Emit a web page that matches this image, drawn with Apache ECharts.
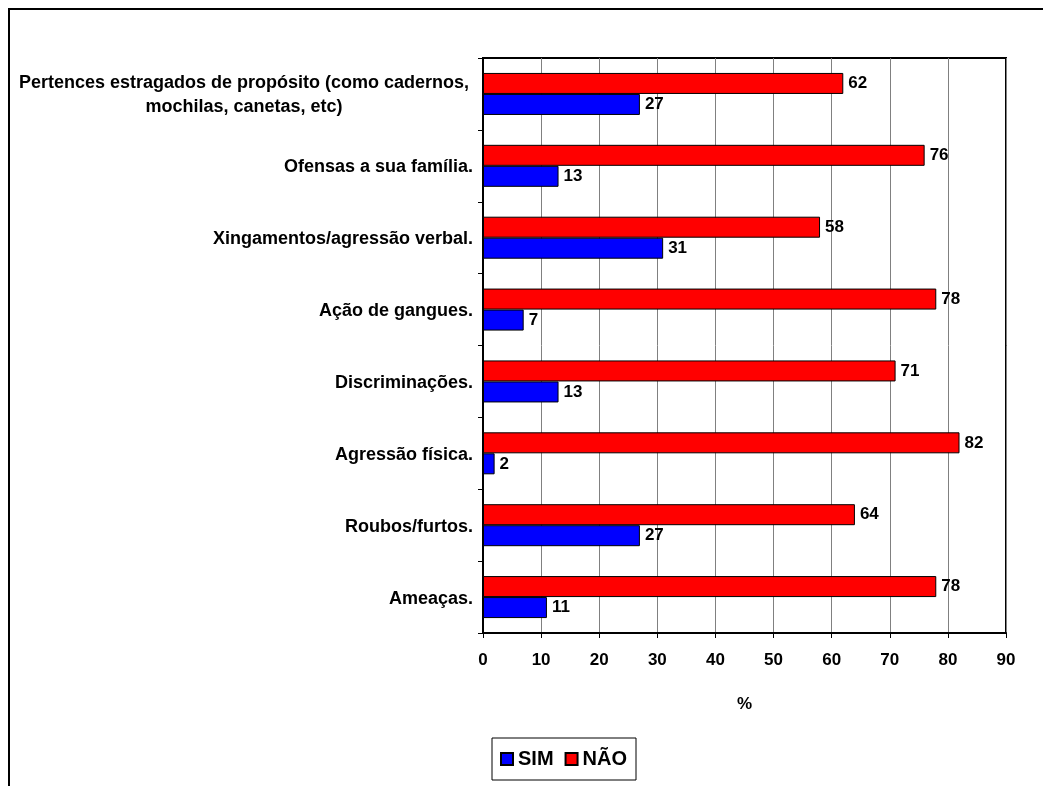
<!DOCTYPE html>
<html>
<head>
<meta charset="utf-8">
<script src="https://cdn.jsdelivr.net/npm/echarts@6/dist/echarts.min.js"></script>
<style>
html,body{margin:0;padding:0;background:#fff;}
#c{width:1043px;height:786px;}
</style>
</head>
<body>
<div id="c"></div>
<script>
// Categories listed bottom to top
const categories = [
  'Ameaças.',
  'Roubos/furtos.',
  'Agressão física.',
  'Discriminações.',
  'Ação de gangues.',
  'Xingamentos/agressão verbal.',
  'Ofensas a sua família.',
  'Pertences estragados de propósito (como cadernos,\nmochilas, canetas, etc)'
];
const simValues = [11, 27, 2, 13, 7, 31, 13, 27];
const naoValues = [78, 64, 82, 71, 78, 58, 76, 62];
const xTicks = [0, 10, 20, 30, 40, 50, 60, 70, 80, 90];

const FONT = "'Liberation Sans', Arial, sans-serif";
const chart = echarts.init(document.getElementById('c'), null, {renderer: 'canvas'});

chart.setOption({
  animation: false,
  backgroundColor: '#fff',
  textStyle: {fontFamily: FONT},
  graphic: [{
    type: 'rect',
    shape: {x: 9, y: 9, width: 1200, height: 1000},
    style: {fill: 'none', stroke: '#000', lineWidth: 2},
    silent: true,
    z: -1
  }],
  grid: {
    left: 483, right: 37, top: 58, bottom: 153,
    show: true, borderColor: '#000', borderWidth: 2, backgroundColor: 'transparent'
  },
  legend: {
    data: ['SIM', 'NÃO'],
    left: 492, top: 738,
    itemWidth: 12, itemHeight: 12, itemGap: 11,
    icon: 'rect',
    borderColor: '#000', borderWidth: 1,
    padding: [11, 9, 11, 8],
    textStyle: {fontSize: 20, fontWeight: 'bold', color: '#000', fontFamily: FONT}
  },
  xAxis: {
    type: 'value',
    min: 0, max: 90, interval: 10,
    name: '%',
    nameLocation: 'middle',
    nameGap: 63,
    nameTextStyle: {fontSize: 17, fontWeight: 'bold', color: '#000', fontFamily: FONT},
    axisLine: {show: true, lineStyle: {color: '#000', width: 2}},
    axisTick: {show: true, length: 5, lineStyle: {color: '#000', width: 1}},
    axisLabel: {
      margin: 19, fontSize: 17, fontWeight: 'bold', color: '#000', fontFamily: FONT,
      formatter: function (v) { return xTicks.indexOf(v) >= 0 ? String(v) : ''; }
    },
    splitLine: {show: true, lineStyle: {color: '#808080', width: 1}}
  },
  yAxis: {
    type: 'category',
    data: categories,
    axisLine: {show: true, lineStyle: {color: '#000', width: 2}},
    axisTick: {show: true, length: 5, inside: false, lineStyle: {color: '#000', width: 1}},
    axisLabel: {
      margin: 10, fontSize: 18, fontWeight: 'bold', color: '#000', fontFamily: FONT,
      lineHeight: 24,
      padding: [3, 0, 0, 0],
      formatter: function (v) {
        if (v.indexOf('\n') >= 0) {
          return v.split('\n').map(function (l) { return '{c|' + l + '}'; }).join('\n');
        }
        return v;
      },
      rich: {
        c: {width: 458, align: 'center', fontSize: 18, fontWeight: 'bold', color: '#000', fontFamily: FONT, lineHeight: 24}
      }
    },
    splitLine: {show: false}
  },
  series: [
    {
      name: 'NÃO', type: 'bar', data: naoValues,
      barWidth: 21, barGap: '0%',
      itemStyle: {color: '#ff0000', borderColor: '#000', borderWidth: 1},
      label: {show: true, position: 'right', distance: 5, fontSize: 17, fontWeight: 'bold', color: '#000', fontFamily: FONT}
    },
    {
      name: 'SIM', type: 'bar', data: simValues,
      barWidth: 21, barGap: '0%',
      itemStyle: {color: '#0000ff', borderColor: '#000', borderWidth: 1},
      label: {show: true, position: 'right', distance: 5, fontSize: 17, fontWeight: 'bold', color: '#000', fontFamily: FONT}
    }
  ]
});
</script>
</body>
</html>
